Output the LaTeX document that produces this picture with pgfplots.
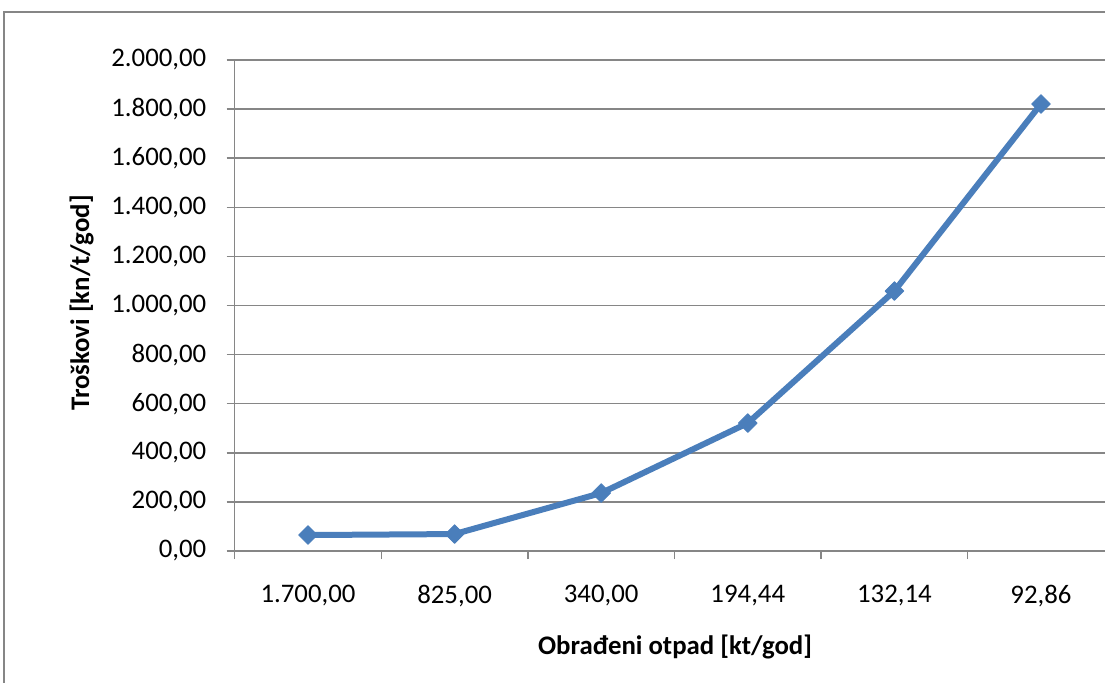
\documentclass[border=0pt]{standalone}
\usepackage{fontspec}
\setmainfont{Carlito}
\usepackage{pgfplots}
\pgfplotsset{compat=1.18}
\definecolor{excelblue}{HTML}{4A7EBB}
\definecolor{gridgray}{HTML}{868686}
\begin{document}
\fontsize{13.4pt}{15pt}\selectfont
\begin{tikzpicture}
\clip (0,0) rectangle (552.5pt,341pt);
\draw[gridgray, line width=1.2pt] (2pt,-10pt) rectangle (570pt,335pt);
\begin{axis}[
  at={(117.35pt,65.5pt)}, anchor=south west,
  scale only axis, width=439.8pt, height=245.5pt,
  xmin=-0.5, xmax=5.5, ymin=0, ymax=2000,
  ytick={0,200,...,2000},
  xtick={-0.5,0.5,...,5.5},
  xticklabels={},
  extra x ticks={0,1,2,3,4,5},
  extra x tick labels={{1.700,00},{825,00},{340,00},{194,44},{132,14},{92,86}},
  extra x tick style={major tick length=0pt, grid=none},
  axis x line*=bottom, axis y line*=left,
  axis line style={gridgray, line width=0.75pt},
  tick style={gridgray, line width=0.75pt},
  tick align=outside, major tick length=4pt,
  ymajorgrids, grid style={gridgray, line width=0.75pt},
  /pgf/number format/assume math mode=true,
  yticklabel style={anchor=east, inner sep=0pt, xshift=-10pt,
    /pgf/number format/.cd, fixed, fixed zerofill, precision=2, use comma},
  xticklabel style={anchor=north, inner sep=0pt, yshift=-17pt},
  xlabel={Obrađeni otpad [kt/god]},
  xlabel style={at={(axis description cs:0.5006,-0.1955)}, anchor=center, font=\bfseries},
  ylabel={Troškovi [kn/t/god]},
  ylabel style={at={(axis description cs:-0.1740,0.505)}, anchor=center, font=\bfseries},
  clip=false,
]
\addplot[excelblue, line width=3pt, line join=round, mark=square*,
  mark size=3.3pt, mark options={rotate=45, fill=excelblue, draw=excelblue, line width=0.4pt}]
  coordinates {(0,65) (1,69) (2,236) (3,521) (4,1059) (5,1821)};
\end{axis}
\end{tikzpicture}
\end{document}
